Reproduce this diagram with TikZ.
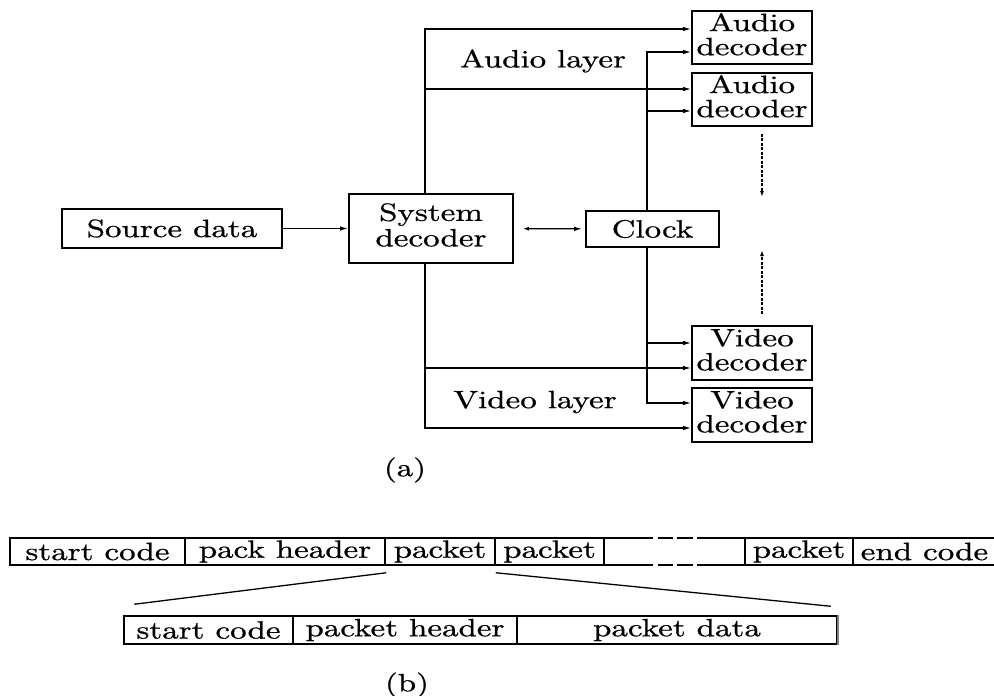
\documentclass[tikz,border=0pt]{standalone}
\usepackage{fontspec}
\setmainfont{lmroman10-regular.otf}[FakeBold=0.7]
\usepackage{graphicx}
\usetikzlibrary{arrows.meta,calc}
% wide text, as set in the figure
\newcommand\wt[1]{\scalebox{3.3}[2.5]{#1}}
\newcommand\twolines[3][0.75]{\wt{\renewcommand\arraystretch{#1}\begin{tabular}{@{}c@{}}#2\\#3\end{tabular}}}
\begin{document}
\begin{tikzpicture}[x=1pt,y=-1pt,
  blk/.style n args={2}{draw,line width=1.7pt,inner sep=0pt,minimum width=#1,minimum height=#2},
  cell/.style={draw,line width=1.5pt,inner sep=0pt,minimum height=27pt,minimum width=#1},
  lowcell/.style={draw,line width=1.5pt,inner sep=0pt,minimum height=28pt,minimum width=#1},
  wire/.style={line width=1.3pt},
  arr/.style={wire,-{Latex[length=8pt,width=4.5pt]}},
  dblarr/.style={wire,{Latex[length=6pt,width=4pt]}-{Latex[length=8pt,width=4.5pt]}},
  dotarr/.style={line width=1.5pt,dash pattern=on 3pt off 1.5pt,-{Latex[length=6pt,width=4pt]}},
  gapline/.style={line width=1.5pt,dash pattern=on 49pt off 5pt on 15pt off 4pt on 16pt off 4pt on 60pt},
  lbl/.style={inner sep=0pt}]
\useasboundingbox (0,0) rectangle (994,696);

% ---------- (a) decoder structure ----------
\node[blk={220pt}{39pt}] (src) at (172,228.5) {\wt{Source data}};
\node[blk={164pt}{69pt}] (sys) at (431,228.5) {\twolines[0.85]{System}{decoder}};
\node[blk={133pt}{36pt}] (clk) at (652.5,229) {\wt{Clock}};

\node[blk={120pt}{53pt}] (ad1) at (752,37.5) {\twolines{Audio}{decoder}};
\node[blk={120pt}{53pt}] (ad2) at (752,99.5) {\twolines{Audio}{decoder}};
\node[blk={120pt}{54pt}] (vd1) at (752,353) {\twolines{Video}{decoder}};
\node[blk={120pt}{54pt}] (vd2) at (752,415) {\twolines{Video}{decoder}};

\node[lbl] (al) at (543,61) {\wt{Audio layer}};
\node[lbl] (vl) at (535,402) {\wt{Video layer}};
\node[lbl] (capa) at (405,470) {\wt{(a)}};

% branch points on the layer buses and the clock bus
\coordinate (aj) at (425,89);
\coordinate (vj) at (425,368);
\coordinate (cj1) at (647,111);
\coordinate (cj2) at (647,343);

\draw[arr] (src) -- (sys);
\draw[dblarr,shorten <=9pt,shorten >=3pt] (sys) -- (clk);

% audio layer
\draw[arr] (sys.north -| 425,0) |- (ad1.west |- 0,29);
\draw[arr] (aj) -- (ad2.west |- aj);
% video layer
\draw[arr] (sys.south -| 425,0) |- (vd2.west |- 0,428);
\draw[arr] (vj) -- (vd1.west |- vj);
% clock distribution
\draw[arr] (clk.north -| 647,0) |- (ad1.west |- 0,52);
\draw[arr] (cj1) -- (ad2.west |- cj1);
\draw[arr] (clk.south -| 647,0) |- (vd2.west |- 0,403);
\draw[arr] (cj2) -- (vd1.west |- cj2);

% further decoders
\coordinate (dA) at (762,197);
\coordinate (dV) at (762,250);
\draw[dotarr,shorten <=7pt] (ad2.south -| 762,0) -- (dA);
\draw[dotarr,shorten <=11pt] (vd1.north -| 762,0) -- (dV);

% ---------- (b) pack layout ----------
\node[cell=175pt] (t1) at (97.5,551.5) {\wt{start code}};
\node[cell=200pt] (t2) at (285,551.5) {\wt{pack header}};
\node[cell=110pt] (pk) at (440,551.5) {\wt{packet}};
\node[cell=109pt] (t4) at (549.5,551.5) {\wt{packet}};
\node[inner sep=0pt,minimum height=27pt,minimum width=141pt] (t5) at (674.5,551.5) {};
\node[cell=108pt] (t6) at (799,551.5) {\wt{packet}};
\node[cell=150pt] (t7) at (928,551.5) {\hspace*{-7pt}\wt{end code}};
\draw[gapline] (t5.north west) -- (t5.north east);
\draw[gapline] (t5.south west) -- (t5.south east);

\node[lowcell=169pt] (l1) at (208.5,630) {\wt{start code}};
\node[lowcell=224pt] (l2) at (405,630) {\wt{packet header}};
\node[lowcell=320pt] (l3) at (677,630) {\wt{packet data}};
\draw[line width=1.8pt,gray] (l3.north east) -- (l3.south east);

\draw[wire] ($(pk.south west)+(2,7)$) -- ($(l1.north west)+(11,-11)$);
\draw[wire] ($(pk.south east)+(0,7)$) -- ($(l3.north east)+(-7,-9)$);

\node[lbl] (capb) at (407,685) {\wt{(b)}};
\end{tikzpicture}
\end{document}
